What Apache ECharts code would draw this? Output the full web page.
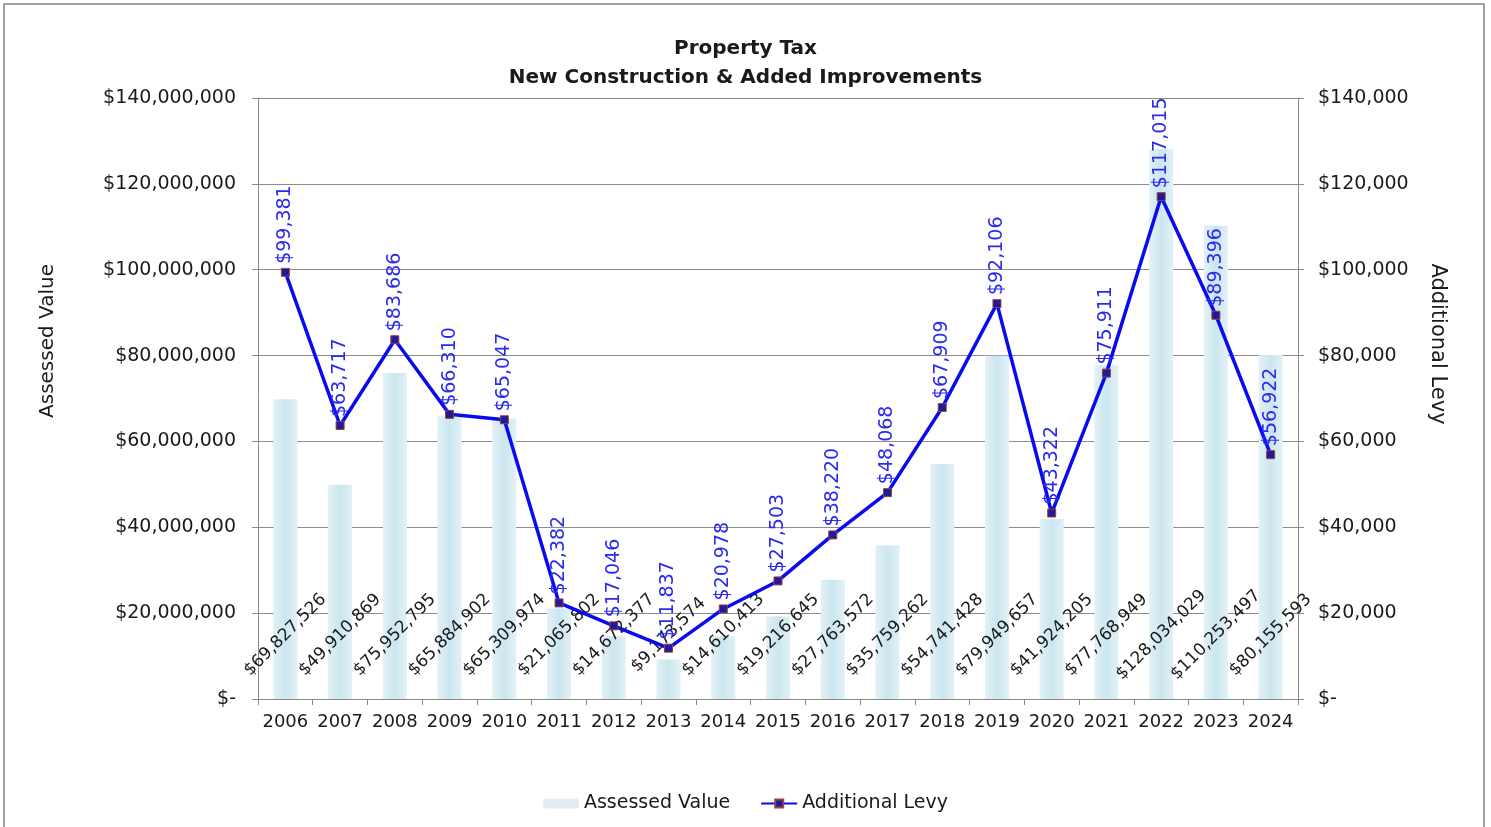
<!DOCTYPE html>
<html>
<head>
<meta charset="utf-8">
<script src="https://cdn.jsdelivr.net/npm/echarts@6/dist/echarts.min.js"></script>
<style>
html,body{margin:0;padding:0;background:#fff;}
#chart{width:1491px;height:827px;}
</style>
</head>
<body>
<div id="chart"></div>
<script>
const years = ['2006','2007','2008','2009','2010','2011','2012','2013','2014','2015','2016','2017','2018','2019','2020','2021','2022','2023','2024'];
const assessedValue = [69827526, 49910869, 75952795, 65884902, 65309974, 21065802, 14672377, 9173574, 14610413, 19216645, 27763572, 35759262, 54741428, 79949657, 41924205, 77768949, 128034029, 110253497, 80155593];
const additionalLevy = [99381, 63717, 83686, 66310, 65047, 22382, 17046, 11837, 20978, 27503, 38220, 48068, 67909, 92106, 43322, 75911, 117015, 89396, 56922];
const titleLines = ['Property Tax', 'New Construction & Added Improvements'];
const leftAxisName = 'Assessed Value';
const rightAxisName = 'Additional Levy';

const FONT = 'DejaVu Sans';
const money = v => v === 0 ? '$-' : '$' + Number(v).toLocaleString('en-US');

const chart = echarts.init(document.getElementById('chart'), null, {renderer: 'canvas'});
chart.setOption({
  backgroundColor: '#ffffff',
  animation: false,
  textStyle: {fontFamily: FONT},
  title: {
    text: titleLines.join('\n'),
    left: 'center',
    top: 29,
    textStyle: {fontFamily: FONT, fontSize: 20, fontWeight: 'bold', color: '#1a1a1a', lineHeight: 29}
  },
  legend: {
    bottom: 9,
    left: 'center',
    itemGap: 30,
    itemWidth: 36,
    itemHeight: 10,
    textStyle: {fontFamily: FONT, fontSize: 19, color: '#1a1a1a'},
    data: [
      {name: leftAxisName, itemStyle: {color: '#e3edf1'}},
      {name: rightAxisName}
    ]
  },
  grid: {left: 258, right: 193, top: 98, bottom: 128, containLabel: false},
  xAxis: {
    type: 'category',
    data: years,
    boundaryGap: true,
    axisLine: {lineStyle: {color: '#8a8a8a', width: 1}},
    axisTick: {show: true, length: 6, lineStyle: {color: '#8a8a8a'}},
    axisLabel: {fontFamily: FONT, fontSize: 18, color: '#1a1a1a', margin: 14, interval: 0}
  },
  yAxis: [
    {
      type: 'value', min: 0, max: 140000000, interval: 20000000,
      axisLine: {show: true, lineStyle: {color: '#8a8a8a'}},
      axisTick: {show: true, length: 6, lineStyle: {color: '#8a8a8a'}},
      axisLabel: {fontFamily: FONT, fontSize: 19, color: '#1a1a1a', margin: 22, formatter: money},
      splitLine: {show: true, lineStyle: {color: '#8c8c8c', width: 1}}
    },
    {
      type: 'value', min: 0, max: 140000, interval: 20000,
      axisLine: {show: true, lineStyle: {color: '#8a8a8a'}},
      axisTick: {show: true, length: 6, lineStyle: {color: '#8a8a8a'}},
      axisLabel: {fontFamily: FONT, fontSize: 19, color: '#1a1a1a', margin: 20, formatter: money},
      splitLine: {show: false}
    }
  ],
  graphic: [
    {type: 'rect', silent: true, shape: {x: 4, y: 4, width: 1480, height: 830},
     style: {fill: 'none', stroke: '#a0a0a0', lineWidth: 2}},
    {type: 'text', silent: true, x: 48, y: 341, rotation: Math.PI / 2,
     style: {text: leftAxisName, fontFamily: FONT, fontSize: 20, fill: '#1a1a1a', align: 'center', verticalAlign: 'middle'}},
    {type: 'text', silent: true, x: 1437, y: 344, rotation: -Math.PI / 2,
     style: {text: rightAxisName, fontFamily: FONT, fontSize: 21, fill: '#1a1a1a', align: 'center', verticalAlign: 'middle'}}
  ],
  series: [
    {
      name: leftAxisName,
      type: 'bar',
      yAxisIndex: 0,
      data: assessedValue,
      barWidth: 24,
      itemStyle: {
        color: new echarts.graphic.LinearGradient(0, 0, 1, 0, [
          {offset: 0, color: '#e2f1f6'},
          {offset: 0.5, color: '#cbe6ef'},
          {offset: 1, color: '#e2f1f6'}
        ])
      },
      label: {
        show: true,
        position: 'insideBottom',
        distance: 64,
        rotate: 45,
        align: 'center',
        verticalAlign: 'middle',
        fontFamily: FONT,
        fontSize: 17,
        color: '#1a1a1a',
        formatter: p => money(p.value)
      },
      z: 2
    },
    {
      name: rightAxisName,
      type: 'line',
      yAxisIndex: 1,
      data: additionalLevy,
      symbol: 'rect',
      symbolSize: 8,
      lineStyle: {color: '#0a0af0', width: 3.5},
      itemStyle: {color: '#1c1c9a', borderColor: '#9a4040', borderWidth: 1},
      label: {
        show: true,
        position: 'top',
        distance: 4,
        rotate: 90,
        align: 'left',
        verticalAlign: 'middle',
        fontFamily: FONT,
        fontSize: 19,
        color: '#2a2af0',
        formatter: p => money(p.value)
      },
      z: 3
    }
  ]
});
</script>
</body>
</html>
